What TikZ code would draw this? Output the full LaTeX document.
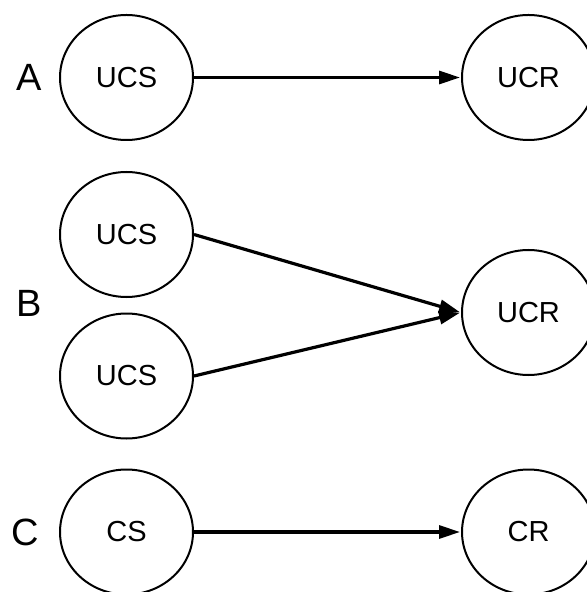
\documentclass[tikz,border=0pt]{standalone}
\usepackage{fontspec}
\setmainfont{Liberation Sans}
\usetikzlibrary{shapes.geometric, arrows.meta}

\begin{document}
\begin{tikzpicture}[
      x=0.5pt, y=-0.5pt,
      >={Triangle[length=10.5pt, width=6.5pt]},
      stim/.style={ellipse, draw, line width=1pt, minimum width=66.5pt,
        minimum height=62.5pt, inner sep=0pt, font=\fontsize{14.5}{16}\selectfont},
      edge/.style={->, line width=1.6pt, shorten >=0.5pt},
      row/.style={font=\fontsize{19}{22}\selectfont, inner sep=0pt}
    ]
    \useasboundingbox (0,0) rectangle (586,592);

    \node[row] (la) at (29,77.5) {A};
    \node[row] (lb) at (29.5,303) {B};
    \node[row] (lc) at (25,532) {C};

    \node[stim] (ucsA) at (126.5,77.5) {UCS};
    \node[stim] (ucrA) at (528.5,77.5) {UCR};

    \node[stim] (ucsB1) at (126.5,234.5) {UCS};
    \node[stim] (ucsB2) at (126.5,376) {UCS};
    \node[stim] (ucrB) at (528.5,312.5) {UCR};

    \node[stim] (csC) at (126.5,532) {CS};
    \node[stim] (crC) at (528.5,532) {CR};

    \draw[edge] (ucsA.east) -- (ucrA.west);
    \draw[edge] (ucsB1.east) -- (ucrB.west);
    \draw[edge] (ucsB2.east) -- (ucrB.west);
    \draw[edge] (csC.east) -- (crC.west);
  \end{tikzpicture}
\end{document}
